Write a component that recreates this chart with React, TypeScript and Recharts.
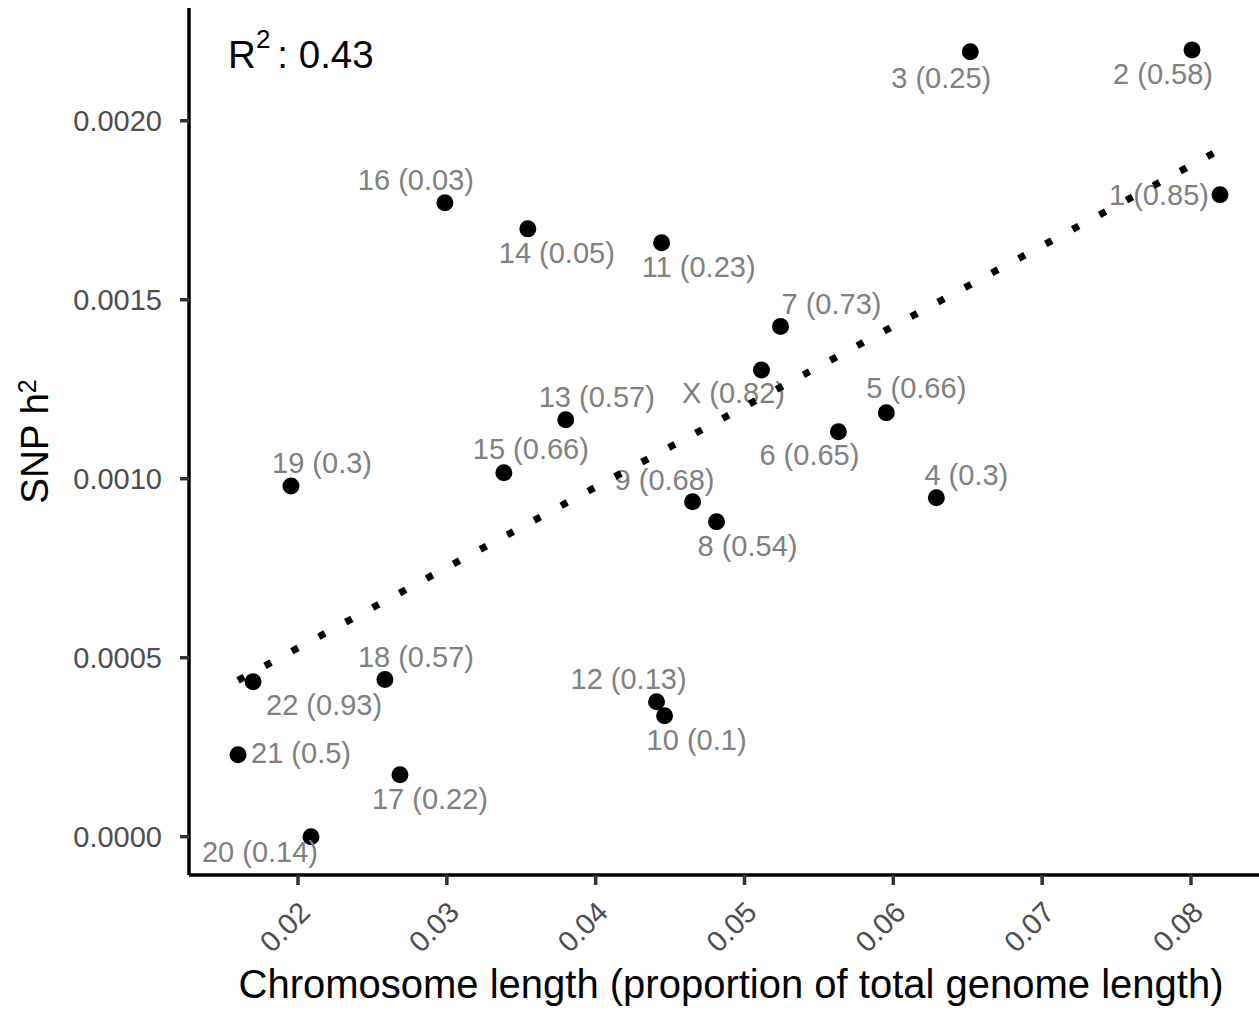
"use client"

import { ScatterChart, Scatter, XAxis, YAxis } from "recharts"

const FONT = "'Liberation Sans', Arial, sans-serif"

// chromosome, length (proportion of genome), SNP h2, value shown in brackets
const chromosomes = ["1", "2", "3", "4", "5", "6", "7", "8", "9", "10", "11", "12", "13", "14", "15", "16", "17", "18", "19", "20", "21", "22", "X"]
const chromLength = [0.08195, 0.08007, 0.06517, 0.06289, 0.05953, 0.05631, 0.05242, 0.04812, 0.04651, 0.04463, 0.04443, 0.04409, 0.03799, 0.03544, 0.03383, 0.02987, 0.02685, 0.02584, 0.01953, 0.02087, 0.01597, 0.01698, 0.05114]
const snpH2 = [0.001793, 0.002198, 0.002193, 0.000947, 0.001184, 0.001131, 0.001425, 0.00088, 0.000936, 0.000338, 0.001659, 0.000377, 0.001165, 0.001698, 0.001017, 0.001771, 0.000173, 0.000439, 0.00098, 0.0, 0.000229, 0.000433, 0.001304]
const bracketValue = [0.85, 0.58, 0.25, 0.3, 0.66, 0.65, 0.73, 0.54, 0.68, 0.1, 0.23, 0.13, 0.57, 0.05, 0.66, 0.03, 0.22, 0.57, 0.3, 0.14, 0.5, 0.93, 0.82]

const xTicks = [0.02, 0.03, 0.04, 0.05, 0.06, 0.07, 0.08]
const yTicks = [0, 0.0005, 0.001, 0.0015, 0.002]
const r2Label = "0.43"

// where each repelled label sits relative to its point (px)
const labelNudge: [number, number][] = [
  [-61, 0], [-29, 24], [-29, 26], [30, -23], [30, -25], [-29, 23], [51, -23], [31, 24],
  [-28, -22], [32, 24], [37, 24], [-28, -23], [31, -23], [29, 24], [27, -24], [-29, -23],
  [30, 24], [31, -23], [31, -23], [-51, 15], [63, -2], [71, 23], [-28, 23],
]

const points = chromosomes.map((chr, i) => ({
  x: chromLength[i],
  y: snpH2[i],
  label: `${chr} (${bracketValue[i]})`,
  nudge: labelNudge[i],
}))

// least squares fit, drawn across the data range
const n = chromLength.length
const meanX = chromLength.reduce((a, b) => a + b, 0) / n
const meanY = snpH2.reduce((a, b) => a + b, 0) / n
let sxy = 0
let sxx = 0
chromLength.forEach((x, i) => {
  sxy += (x - meanX) * (snpH2[i] - meanY)
  sxx += (x - meanX) * (x - meanX)
})
const slope = sxy / sxx
const intercept = meanY - slope * meanX
const xMin = Math.min(...chromLength)
const xMax = Math.max(...chromLength)
const fitLine = [
  { x: xMin, y: intercept + slope * xMin },
  { x: xMax, y: intercept + slope * xMax },
]

const annotation = [{ x: 0.0153, y: 0.002147 }]

const XTick = (props: any) => {
  const { x, y, payload } = props
  const px = x + 14
  const py = y + 27
  return (
    <text x={px} y={py} textAnchor="end" fill="#4D4D4D" fontSize={29} fontFamily={FONT} transform={`rotate(-45, ${px}, ${py})`}>
      {Number(payload.value).toFixed(2)}
    </text>
  )
}

const XTitle = (props: any) => {
  const vb = props.viewBox
  return (
    <text x={vb.x + vb.width / 2 + 7} y={vb.y + 123} textAnchor="middle" fill="#000" fontSize={40} fontFamily={FONT}>
      Chromosome length (proportion of total genome length)
    </text>
  )
}

const YTitle = (props: any) => {
  const vb = props.viewBox
  const cy = vb.y + vb.height / 2
  return (
    <text x={48} y={cy} textAnchor="middle" fill="#000" fontSize={38.5} fontFamily={FONT} transform={`rotate(-90, 48, ${cy})`}>
      <tspan>SNP h</tspan>
      <tspan dy={-12} fontSize={25}>2</tspan>
    </text>
  )
}

export default function App() {
  return (
    <div style={{ position: "absolute", left: 0, top: 0, background: "#fff" }}>
      <ScatterChart width={1259} height={1012} margin={{ top: 8, right: 0, bottom: 0, left: 0 }}>
        <XAxis
          type="number"
          dataKey="x"
          domain={[0.012675, 0.08457]}
          ticks={xTicks}
          interval={0}
          allowDataOverflow
          height={137}
          tickSize={10}
          tick={XTick}
          axisLine={{ stroke: "#000", strokeWidth: 3.5 }}
          tickLine={{ stroke: "#333", strokeWidth: 3.5 }}
          label={XTitle}
        />
        <YAxis
          type="number"
          dataKey="y"
          domain={[-0.000107, 0.002315]}
          ticks={yTicks}
          interval={0}
          allowDataOverflow
          width={189}
          tickSize={9}
          tickMargin={18}
          tickFormatter={(v: number) => v.toFixed(4)}
          tick={{ fill: "#4D4D4D", fontSize: 29, fontFamily: FONT }}
          axisLine={{ stroke: "#000", strokeWidth: 3.5 }}
          tickLine={{ stroke: "#333", strokeWidth: 3.5 }}
          label={YTitle}
        />
        <Scatter
          data={points}
          isAnimationActive={false}
          shape={(p: any) => <circle cx={p.cx} cy={p.cy} r={8.5} fill="#000" />}
        />
        <Scatter
          data={points}
          isAnimationActive={false}
          shape={(p: any) => (
            <text
              x={p.cx + p.payload.nudge[0]}
              y={p.cy + p.payload.nudge[1] + 10}
              textAnchor="middle"
              fill="#808080"
              fontSize={29}
              fontFamily={FONT}
            >
              {p.payload.label}
            </text>
          )}
        />
        <Scatter
          data={fitLine}
          isAnimationActive={false}
          line={{ stroke: "#000", strokeWidth: 7, strokeDasharray: "7 23.6" }}
          shape={() => <g />}
        />
        <Scatter
          data={annotation}
          isAnimationActive={false}
          shape={(p: any) => (
            <text x={p.cx} y={p.cy} fill="#000" fontSize={38.5} fontFamily={FONT}>
              <tspan>R</tspan>
              <tspan dy={-20} fontSize={26}>2</tspan>
              <tspan dy={20} dx={7}>:</tspan>
              <tspan>{` ${r2Label}`}</tspan>
            </text>
          )}
        />
      </ScatterChart>
    </div>
  )
}
